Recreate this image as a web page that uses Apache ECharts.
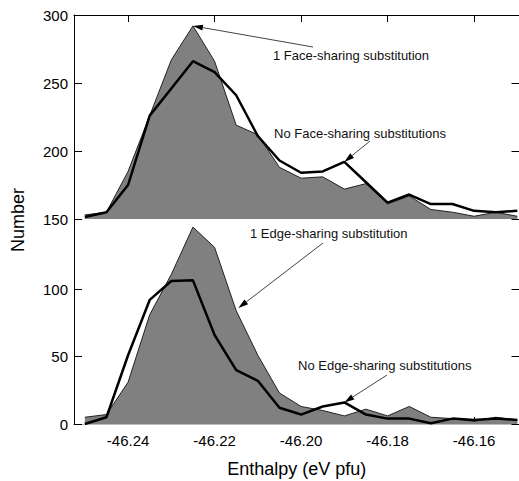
<!DOCTYPE html>
<html>
<head>
<meta charset="utf-8">
<script src="https://cdn.jsdelivr.net/npm/echarts@6/dist/echarts.min.js"></script>
<style>
    html, body { margin: 0; padding: 0; overflow: hidden; background: #fff; }
    #chart { width: 522px; height: 481px; }
</style>
</head>
<body>
<div id="chart"></div>
<script>
// ---- Data ----
const enthalpy = [-46.25, -46.245, -46.24, -46.235, -46.23, -46.225, -46.22, -46.215, -46.21, -46.205,
    -46.20, -46.195, -46.19, -46.185, -46.18, -46.175, -46.17, -46.165, -46.16, -46.155, -46.15];

// top panel (axis starts at 150)
const faceOne  = [153, 155, 185, 226, 267, 292, 266, 219, 212, 188, 180, 181, 172, 176, 161, 167, 157, 155, 152, 155, 152];
const faceNone = [151.5, 155, 175, 226, 246, 266, 258, 241, 211, 193, 184, 185, 192, 177, 162, 168, 161, 161, 156, 155, 156];

// bottom panel
const edgeOne  = [5, 7, 31, 81, 111, 146, 131, 84, 51, 23, 13, 10, 6, 11, 6, 13, 5, 4, 2, 5, 3];
const edgeNone = [0, 5, 51, 92, 106, 106.5, 66, 40, 32, 12, 7, 13, 16, 7, 4, 4, 0.5, 4, 3, 4, 3];

const xTicks = [-46.24, -46.22, -46.20, -46.18, -46.16];
const topTicks = [150, 200, 250, 300];
const bottomTicks = [0, 50, 100];

const labels = {
    faceOne: "1 Face-sharing substitution",
    faceNone: "No Face-sharing substitutions",
    edgeOne: "1 Edge-sharing substitution",
    edgeNone: "No Edge-sharing substitutions"
};

(function (window, document) {
    "use strict";

    const FONT = '"Liberation Sans", Arial, Helvetica, sans-serif';
    const GRAY = "#808080";

    function zip(xs, ys) {
        return xs.map((x, i) => [x, ys[i]]);
    }

    // shared axis bits
    function xAxis(gridIndex, opts) {
        return Object.assign({
            type: "value",
            gridIndex,
            min: -46.2525,
            max: -46.1495,
            splitLine: { show: false },
            axisLine: { lineStyle: { color: "#000", width: 1 } },
            axisTick: { inside: true, length: 7, customValues: xTicks, lineStyle: { color: "#000" } },
            axisLabel: { show: false }
        }, opts);
    }

    function yAxis(gridIndex, ticks, min, max, opts) {
        return Object.assign({
            type: "value",
            gridIndex,
            min,
            max,
            splitLine: { show: false },
            axisLine: { show: true, onZero: false, lineStyle: { color: "#000", width: 1 } },
            axisTick: { inside: true, length: 8, customValues: ticks, lineStyle: { color: "#000" } },
            axisLabel: {
                customValues: ticks,
                margin: 6,
                color: "#000",
                fontFamily: FONT,
                fontSize: 15
            }
        }, opts);
    }

    function area(name, xi, yi, data) {
        return {
            name, type: "line", xAxisIndex: xi, yAxisIndex: yi,
            data, symbol: "none", z: 2,
            lineStyle: { color: "#222", width: 1 },
            areaStyle: { color: GRAY, opacity: 1, origin: "start" }
        };
    }

    function line(name, xi, yi, data) {
        return {
            name, type: "line", xAxisIndex: xi, yAxisIndex: yi,
            data, symbol: "none", z: 3,
            lineStyle: { color: "#000", width: 2.5 }
        };
    }

    // ---- Annotations: text + arrow pointing at a data spot ----
    const notes = [
        { text: labels.faceOne,  tx: 273, ty: 55,  tail: [313, 47],  at: [-46.225, 292], axes: { xAxisIndex: 0, yAxisIndex: 0 } },
        { text: labels.faceNone, tx: 274, ty: 133, tail: [370, 141], at: [-46.19, 192],  axes: { xAxisIndex: 0, yAxisIndex: 0 } },
        { text: labels.edgeOne,  tx: 250, ty: 233, tail: [323, 243], at: [-46.2145, 86], axes: { xAxisIndex: 1, yAxisIndex: 2 } },
        { text: labels.edgeNone, tx: 298, ty: 365, tail: [387, 375], at: [-46.19, 16],   axes: { xAxisIndex: 1, yAxisIndex: 2 } }
    ];

    function arrow(chart, n) {
        const head = chart.convertToPixel(n.axes, n.at);
        const [tx, ty] = n.tail;
        const dx = head[0] - tx, dy = head[1] - ty;
        const len = Math.hypot(dx, dy) || 1;
        const ux = dx / len, uy = dy / len;
        const hl = 10, hw = 3;
        const bx = head[0] - ux * hl, by = head[1] - uy * hl;
        return [
            {
                type: "line", silent: true, z: 10,
                shape: { x1: tx, y1: ty, x2: bx, y2: by },
                style: { stroke: "#444", lineWidth: 1 }
            },
            {
                type: "polygon", silent: true, z: 10,
                shape: { points: [head, [bx - uy * hw, by + ux * hw], [bx + uy * hw, by - ux * hw]] },
                style: { fill: "#000" }
            },
            {
                type: "text", silent: true, z: 10, x: n.tx, y: n.ty,
                style: { text: n.text, fill: "#111", font: "13px " + FONT, align: "left", verticalAlign: "middle" }
            }
        ];
    }

    function init() {
        const el = document.getElementById("chart");
        const chart = echarts.init(el, null, { renderer: "svg" });

        chart.setOption({
            animation: false,
            backgroundColor: "#fff",
            grid: [
                { left: 74, right: 2.5, top: 15, height: 204 },
                { left: 74, right: 2.5, top: 219, height: 205 }
            ],
            xAxis: [
                xAxis(0, { position: "top" }),
                xAxis(1, {
                    position: "bottom",
                    axisLabel: {
                        show: true, customValues: xTicks, margin: 9, color: "#000",
                        fontFamily: FONT, fontSize: 15, formatter: v => v.toFixed(2)
                    },
                    name: "Enthalpy (eV pfu)",
                    nameLocation: "middle",
                    nameGap: 36,
                    nameTextStyle: { color: "#000", fontFamily: FONT, fontSize: 18 }
                }),
                // thin separator between the two panels
                xAxis(1, { position: "top", axisLine: { lineStyle: { color: "#bbb", width: 1 } }, axisTick: { show: false } })
            ],
            yAxis: [
                yAxis(0, topTicks, 150, 300, { position: "left" }),
                yAxis(0, topTicks, 150, 300, { position: "right", axisLabel: { show: false } }),
                yAxis(1, bottomTicks, 0, 152, { position: "left" }),
                yAxis(1, bottomTicks, 0, 152, { position: "right", axisLabel: { show: false } })
            ],
            series: [
                area("faceOne", 0, 0, zip(enthalpy, faceOne)),
                line("faceNone", 0, 0, zip(enthalpy, faceNone)),
                area("edgeOne", 1, 2, zip(enthalpy, edgeOne)),
                line("edgeNone", 1, 2, zip(enthalpy, edgeNone))
            ]
        });

        const graphic = [{
            type: "text", silent: true, x: 18, y: 220, rotation: Math.PI / 2,
            style: { text: "Number", fill: "#000", font: "18px " + FONT, align: "center", verticalAlign: "middle" }
        }];
        notes.forEach(n => graphic.push(...arrow(chart, n)));
        chart.setOption({ graphic });
    }

    init();
})(window, document);
</script>
</body>
</html>
